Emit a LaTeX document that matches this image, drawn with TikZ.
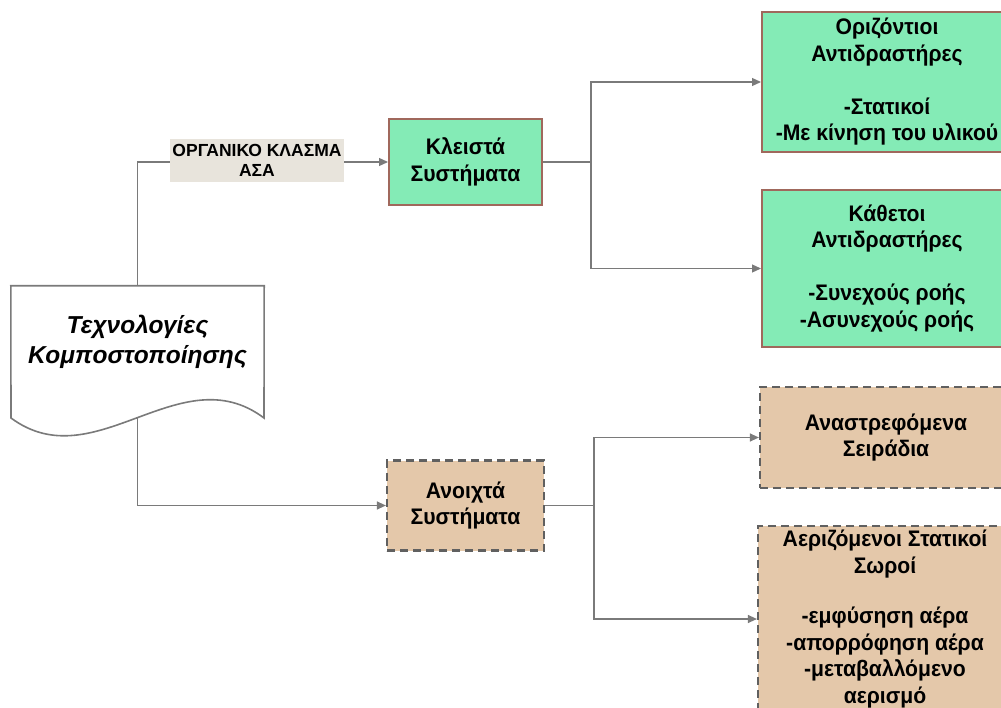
\documentclass[tikz,border=0pt]{standalone}
\usepackage{fontspec}
\setmainfont{Liberation Sans}[BoldFont={Liberation Sans Bold},ItalicFont={Liberation Sans Italic},BoldItalicFont={Liberation Sans Bold Italic}]
\newfontfamily\narrowfont{Liberation Sans}[FakeStretch=0.94,BoldFont={Liberation Sans Bold},ItalicFont={Liberation Sans Italic},BoldItalicFont={Liberation Sans Bold Italic}]
\usetikzlibrary{arrows.meta}
\definecolor{mint}{HTML}{84EBB6}
\definecolor{mintborder}{HTML}{A0685C}
\definecolor{sand}{HTML}{E4C8AA}
\definecolor{dashgray}{HTML}{606060}
\definecolor{conngray}{HTML}{7A7A7A}
\definecolor{lblfill}{HTML}{E8E4DC}
\tikzset{
  boxtext/.style={font={\narrowfont\fontsize{22.5}{26.5}\selectfont\bfseries}, align=center, inner sep=0pt},
  greenbox/.style={boxtext, draw=mintborder, fill=mint, line width=2pt},
  sandbox/.style={boxtext, draw=dashgray, fill=sand, line width=2.2pt, dash pattern=on 8pt off 5pt},
  conn/.style={draw=conngray, line width=1.2pt, -{Triangle[length=9pt,width=8pt]}},
  plainconn/.style={draw=conngray, line width=1.2pt},
  lbl/.style={fill=lblfill, font={\fontsize{17.5}{19.5}\selectfont\bfseries}, align=center, inner sep=0pt, minimum width=174pt, minimum height=43pt},
  docbox/.style={font={\fontsize{24.5}{30}\selectfont\bfseries\itshape}, align=center, inner sep=0pt, minimum width=253pt, minimum height=112pt}
}
\begin{document}
\begin{tikzpicture}[x=1pt,y=-1pt]
\useasboundingbox (0,0) rectangle (1001,708);

% document shape
\node[docbox] (doc) at (137.5,342) {Τεχνολογίες\\Κομποστοποίησης};
\draw[draw=conngray, line width=1.6pt, fill=white]
  (doc.north west) -- (doc.north east) -- (264,418)
  .. controls (180,355) and (95,480) .. (11,418) -- cycle;
\node[docbox] at (doc.center) {Τεχνολογίες\\Κομποστοποίησης};
\coordinate (docb) at (137.5,418);

% second level
\node[greenbox, minimum width=153pt, minimum height=86pt] (closed) at (465.5,162) {Κλειστά\\Συστήματα};
\node[sandbox, minimum width=157pt, minimum height=90pt] (open) at (465.5,505.5) {Ανοιχτά\\Συστήματα};

% third level
\node[greenbox, minimum width=250pt, minimum height=140pt] (hor) at (887,82)
  {Οριζόντιοι\\Αντιδραστήρες\\[26.5pt]-Στατικοί\\-Με κίνηση του υλικού};
\node[greenbox, minimum width=250pt, minimum height=157pt] (vert) at (887,268.5)
  {Κάθετοι\\Αντιδραστήρες\\[26.5pt]-Συνεχούς ροής\\-Ασυνεχούς ροής};
\node[sandbox, minimum width=252pt, minimum height=101pt] (ana) at (886,437.5)
  {Αναστρεφόμενα\\Σειράδια};
\node[sandbox, minimum width=254pt, minimum height=186pt] (aer) at (885,619)
  {Αεριζόμενοι Στατικοί\\Σωροί\\[24pt]-εμφύσηση αέρα\\-απορρόφηση αέρα\\-μεταβαλλόμενο\\αερισμό};

% junction coordinates
\coordinate (j1) at (591,162);
\coordinate (j2) at (594,505.5);

% connectors
\draw[conn] (doc.north) |- (closed.west);
\node[lbl] (orglbl) at (257,160.5) {ΟΡΓΑΝΙΚΟ ΚΛΑΣΜΑ\\ΑΣΑ};
\draw[conn] (docb) |- (open.west);
\draw[plainconn] (closed.east) -- (j1);
\draw[conn] (j1) |- (hor.west);
\draw[conn] (j1) |- (vert.west);
\draw[plainconn] (open.east) -- (j2);
\draw[conn] (j2) |- (ana.west);
\draw[conn] (j2) |- (aer.west);
\end{tikzpicture}
\end{document}
